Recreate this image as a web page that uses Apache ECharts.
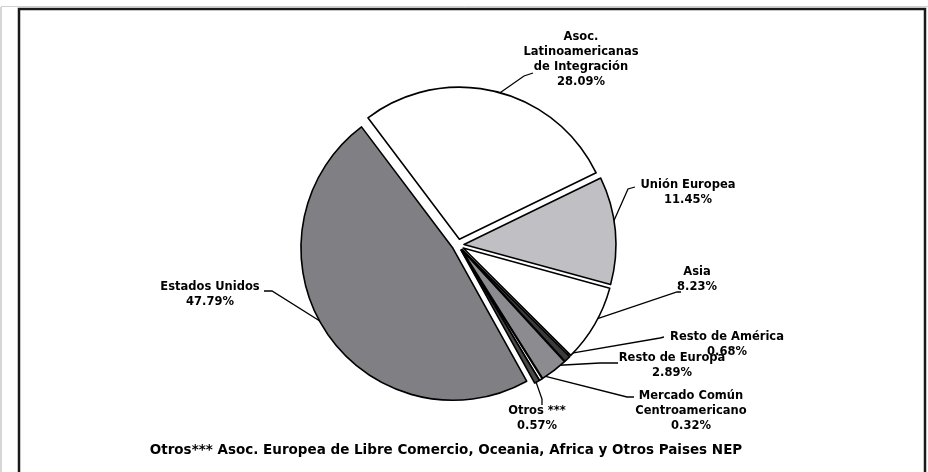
<!DOCTYPE html>
<html>
<head>
<meta charset="utf-8">
<script src="https://cdn.jsdelivr.net/npm/echarts@6/dist/echarts.min.js"></script>
<style>
  html, body { margin: 0; padding: 0; background: #fff; }
  #chart { width: 928px; height: 472px; }
</style>
</head>
<body>
<div id="chart"></div>
<script>
// datos (% del total exportado)
const categories = [
  "Asoc.\nLatinoamericanas\nde Integración",
  "Unión Europea",
  "Asia",
  "Resto de América",
  "Resto de Europa",
  "Mercado Común\nCentroamericano",
  "Otros ***",
  "Estados Unidos",
];
const shares = [28.09, 11.45, 8.23, 0.68, 2.89, 0.32, 0.57, 47.79];
const footnote =
  "Otros*** Asoc. Europea de Libre Comercio, Oceania, Africa y Otros Paises NEP";

// estilo de cada porcion
const sliceColors = ["#ffffff", "#c0c0c4", "#ffffff", "#3a3a3a", "#8c8c90", "#ffffff", "#4a4a4a", "#808084"];

// posicion de etiquetas: [centro x, arriba y, codo x, codo y, fin x, fin y]
const labelSpots = [
  [581, 30, 524, 76, 533, 73],
  [688, 178, 628, 189, 635, 187],
  [697, 265, 677, 292, 681, 292],
  [727, 330, 660, 338, 664, 337],
  [672, 351, 600, 363, 618, 363],
  [691, 389, 627, 397, 634, 397],
  [537, 404, 542, 399, 542, 405],
  [210, 280, 272, 291, 264, 291],
];

const pieCenter = [458, 245];
const pieRadius = 152;
const pieStart = 127;

const chart = echarts.init(document.getElementById("chart"));
chart.setOption({
  animation: false,
  backgroundColor: "#fff",
  textStyle: { fontFamily: "DejaVu Sans" },
  graphic: [
    {
      type: "rect",
      shape: { x: 19, y: 9, width: 906, height: 480 },
      style: { fill: "none", stroke: "#1a1a1a", lineWidth: 2.5 },
    },
    {
      type: "line",
      shape: { x1: 1, y1: 7, x2: 1, y2: 472 },
      style: { stroke: "#c8c8c8", lineWidth: 1.5 },
    },
    {
      type: "line",
      shape: { x1: 1, y1: 6.5, x2: 928, y2: 6.5 },
      style: { stroke: "#d0d0d0", lineWidth: 1 },
    },
    {
      type: "text",
      x: 446,
      y: 450,
      style: {
        text: footnote,
        fill: "#000",
        font: "bold 13.5px 'DejaVu Sans'",
        align: "center",
        verticalAlign: "middle",
      },
    },
  ],
  series: [
    // porciones separadas
    {
      type: "pie",
      center: pieCenter,
      radius: pieRadius,
      startAngle: pieStart,
      clockwise: true,
      selectedMode: "multiple",
      selectedOffset: 6,
      silent: true,
      emphasis: { disabled: true },
      itemStyle: { borderColor: "#000", borderWidth: 1.6 },
      label: { show: false },
      labelLine: { show: false },
      data: categories.map((name, i) => ({
        name: name,
        value: shares[i],
        selected: true,
        itemStyle: { color: sliceColors[i] },
      })),
    },
    // etiquetas
    {
      type: "pie",
      center: pieCenter,
      radius: pieRadius,
      startAngle: pieStart,
      clockwise: true,
      silent: true,
      avoidLabelOverlap: false,
      emphasis: { disabled: true },
      itemStyle: { color: "rgba(0,0,0,0)", borderWidth: 0 },
      label: {
        show: true,
        position: "outside",
        color: "#000",
        fontSize: 11.5,
        fontWeight: "bold",
        lineHeight: 15,
        align: "center",
        formatter: (p) => p.name + "\n" + p.value.toFixed(2) + "%",
      },
      labelLine: {
        show: true,
        smooth: false,
        length: 10,
        length2: 10,
        lineStyle: { color: "#000", width: 1.3 },
      },
      labelLayout: (params) => {
        const s = labelSpots[params.dataIndex];
        const pts = params.labelLinePoints;
        const start = pts ? pts[0] : [s[2], s[3]];
        return {
          x: s[0],
          y: s[1],
          align: "center",
          verticalAlign: "top",
          labelLinePoints: [start, [s[2], s[3]], [s[4], s[5]]],
        };
      },
      data: categories.map((name, i) => ({ name: name, value: shares[i] })),
    },
  ],
});
</script>
</body>
</html>
